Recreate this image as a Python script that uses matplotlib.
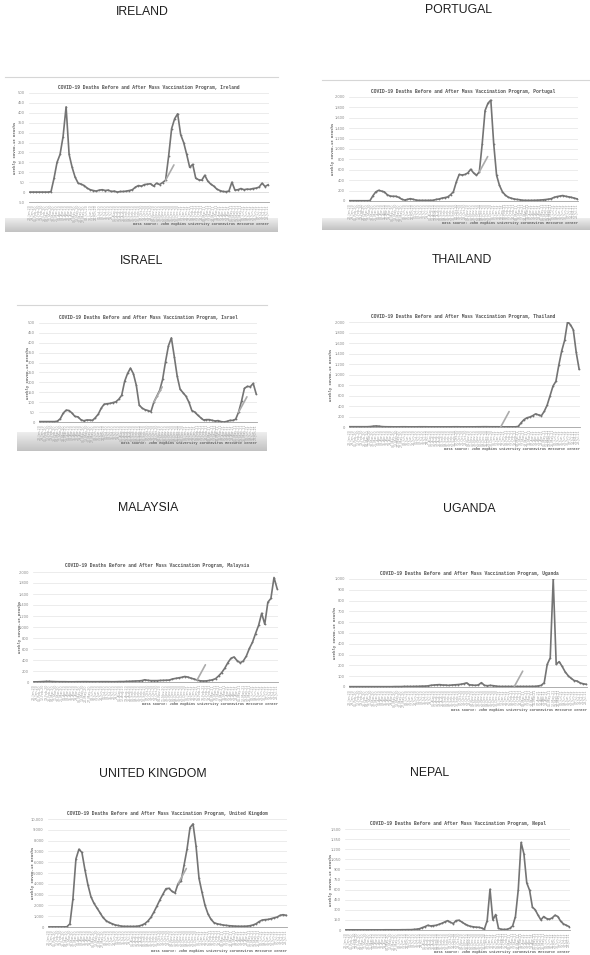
"""Eight small JHU weekly-death screenshots (before/after mass vaccination) laid out in a 2x4 collage."""
import numpy as np
import pandas as pd
import matplotlib
matplotlib.use("Agg")
import matplotlib.pyplot as plt
from matplotlib.colors import LinearSegmentedColormap
from matplotlib.ticker import FuncFormatter
from matplotlib.lines import Line2D

W, H = 590, 955

headings = ["IRELAND", "PORTUGAL", "ISRAEL", "THAILAND",
            "MALAYSIA", "UGANDA", "UNITED KINGDOM", "NEPAL"]
names = ["Ireland", "Portugal", "Israel", "Thailand",
         "Malaysia", "Uganda", "United Kingdom", "Nepal"]

ireland = [0, 0, 0, 0, 0, 0, 0, 2,
           70, 150, 190, 280, 430, 190, 125, 75, 45, 40, 33, 20,
           12, 8, 5, 10, 12, 8, 10, 3, 5, 0,
           3, 3, 5, 8, 12, 25, 33, 30, 38, 40,
           42, 30, 45, 38, 48, 60, 180, 320, 370, 395,
           290, 250, 190, 125, 140, 70, 62, 60, 85, 55,
           40, 30, 15, 8, 3, 2, 5, 50, 10, 12,
           18, 12, 15, 14, 18, 20, 25, 45, 28, 37]
portugal = [5, 5, 5, 5, 5, 5, 5, 8,
            100, 175, 205, 190, 175, 120, 95, 90, 90, 70, 35, 18,
            30, 45, 32, 18, 12, 12, 12, 12, 12, 15,
            30, 38, 55, 65, 78, 120, 180, 365, 510, 500,
            510, 540, 610, 540, 495, 560, 1100, 1740, 1880, 1940,
            1100, 494, 300, 180, 115, 75, 55, 40, 30, 25,
            15, 13, 12, 12, 13, 15, 18, 22, 28, 35,
            45, 70, 85, 95, 105, 90, 80, 70, 55, 40]
israel = [2, 2, 2, 2, 2, 2, 4,
          17, 45, 60, 58, 45, 28, 26, 12, 6, 10,
          10, 8, 22, 40, 70, 90, 92, 94, 98, 102,
          115, 135, 205, 245, 272, 244, 185, 85, 70, 62,
          58, 52, 100, 130, 160, 215, 305, 385, 425, 330,
          230, 165, 148, 130, 100, 58, 50, 35, 22, 10,
          12, 12, 8, 5, 7, 2, 0, 3, 8, 8,
          14, 50, 105, 170, 180, 178, 195, 143]
thailand = [5, 5, 5, 5, 5, 5, 5, 8,
            15, 20, 15, 8,
            5, 4, 4, 3, 3, 3, 4, 4, 3, 3,
            3, 3, 4, 4, 4, 3, 3, 3, 3, 3,
            3, 3, 3, 3, 4, 4, 3, 3, 3, 3,
            3, 3, 4, 4, 5, 5, 4, 4, 4, 4,
            3, 3, 3, 3, 3, 3,
            10, 80, 140, 175, 190, 215, 250, 230, 215, 300,
            420, 600, 780, 870, 1180, 1450, 1650, 2000, 1950, 1850,
            1420, 1100]
malaysia = [3, 3, 5, 8, 10, 10, 8, 6, 5, 5,
            5, 4, 4, 4, 5, 5, 6, 6, 5, 5,
            5, 5, 6, 6, 6, 5, 5, 6, 8, 8,
            10, 12, 15, 18, 20,
            25, 40, 30, 25, 25, 25, 28, 30, 32, 35,
            55, 65, 75, 85, 100, 90, 70, 55, 35, 22,
            18, 20, 28, 40, 60, 110, 170, 250, 350, 430,
            455, 390, 350, 380, 470, 610, 720, 880, 1030, 1250,
            1050, 1450, 1520, 1900, 1700]
uganda = [3, 3, 3, 3, 3, 3, 3, 3, 3, 3,
          3, 3, 3, 3, 3, 4, 4, 4, 5, 5,
          5, 5, 6, 6, 8, 8,
          10, 15, 18, 20, 22, 18, 18, 15, 18, 20,
          22, 25, 30, 38, 20, 18, 15, 20, 40, 15,
          12, 15, 12, 8,
          5, 5, 5, 5, 5, 5, 5, 5, 5, 5,
          5, 6, 6, 10, 15, 40, 210, 270, 1000, 210,
          235, 190, 140, 105, 80, 60, 55, 38, 30, 25]
united_kingdom = [10, 10, 10, 10, 10, 10, 20,
                  300, 2600, 6300, 7200, 6900, 5300, 3900, 2800, 2200, 1760,
                  1330, 880, 600, 420, 310, 200, 140, 90, 60, 60,
                  55, 55, 60, 100, 180, 320, 560, 900, 1400, 1950,
                  2530, 3050, 3550, 3580, 3300, 3150, 4000, 4230, 5700, 7200,
                  9200, 9550, 7500, 4500, 3200, 2000, 1200, 700, 400, 300,
                  240, 185, 150, 120, 100, 80, 70, 65, 70, 80,
                  120, 190, 300, 500, 640, 680, 700, 770, 850, 920,
                  1080, 1140, 1080]
nepal = [2, 2, 2, 2, 2, 2, 2, 2, 2, 2,
         2, 2, 2, 2, 3, 3, 3, 3, 3, 3,
         4, 4, 5, 5,
         8, 12, 18, 35, 50, 70, 60, 65, 70, 85,
         100, 120, 139, 115, 95, 140, 145, 120, 92, 70,
         55, 48, 42, 40, 30, 12, 140, 606, 150, 230,
         25, 10, 8, 10, 25, 60, 200, 600, 1300, 1130,
         700, 590, 340, 300, 220, 150, 200, 170, 160, 180,
         220, 200, 130, 90, 70, 50]

series = [ireland, portugal, israel, thailand, malaysia, uganda, united_kingdom, nepal]
y_min = [-50, 0, 0, 0, 0, 0, 0, 0]
y_max = [500, 2000, 500, 2000, 2000, 1000, 10000, 1500]
y_step = [50, 200, 50, 200, 200, 100, 1000, 150]
vax_weeks = [[45], [45], [39, 68], [52], [53], [55], [43], []]
first_week = "2020-01-22"
week_labels = [pd.date_range(first_week, periods=len(s), freq="7D").strftime("%d-%b-%y")
               for s in series]

# pixel layout: heading centre, plot box (x0, x1, top, bottom), chart title, source y,
# grey footer (x0, x1, top, bottom) or None, y-label x
layout = [
    dict(head=(142, 12), plot=(29, 269, 93, 202), ttl=(149, 87), src=224,
         foot=(5, 278, 218, 232), box=77, ylab=15),
    dict(head=(459, 10), plot=(349, 578, 97, 201), ttl=(463, 92), src=223,
         foot=(322, 590, 218, 230), box=80, ylab=333),
    dict(head=(142, 261), plot=(39, 257, 323, 422), ttl=(148, 317), src=443,
         foot=(17, 267, 432, 451), box=305, ylab=28),
    dict(head=(462, 260), plot=(349, 580, 322, 427), ttl=(463, 316), src=449,
         foot=None, box=None, ylab=331),
    dict(head=(148, 508), plot=(33, 278, 572, 682), ttl=(157, 566), src=704,
         foot=None, box=None, ylab=20),
    dict(head=(469, 509), plot=(349, 587, 579, 687), ttl=(469, 573), src=710,
         foot=None, box=None, ylab=335),
    dict(head=(153, 774), plot=(48, 287, 819, 927), ttl=(167, 813), src=951,
         foot=None, box=None, ylab=33),
    dict(head=(430, 773), plot=(345, 570, 829, 930), ttl=(458, 823), src=952,
         foot=None, box=None, ylab=331),
]

LINE = "#747474"
footer_cmap = LinearSegmentedColormap.from_list("foot", ["#eeeeee", "#c2c2c2"])


def fx(x):
    return x / W


def fy(y):
    return 1 - y / H


def rect(x0, x1, y0, y1):
    return [fx(x0), fy(y1), (x1 - x0) / W, (y1 - y0) / H]


fig = plt.figure(figsize=(W / 100, H / 100), dpi=100)
fig.patch.set_facecolor("white")

for k, lay in enumerate(layout):
    vals = series[k]
    n = len(vals)

    if lay["foot"] is not None:
        fx0, fx1, fy0, fy1 = lay["foot"]
        fa = fig.add_axes(rect(fx0, fx1, fy0, fy1), zorder=0)
        fa.imshow(np.linspace(0, 1, 60).reshape(-1, 1), cmap=footer_cmap,
                  aspect="auto", extent=(0, 1, 0, 1))
        fa.set_axis_off()
        fig.add_artist(Line2D([fx(fx0), fx(fx1)], [fy(lay["box"])] * 2,
                              color="#d6d6d6", lw=0.8))

    x0, x1, top, bot = lay["plot"]
    ax = fig.add_axes(rect(x0, x1, top, bot), zorder=1)
    ax.set_facecolor("none")
    ax.plot(range(n), vals, color=LINE, lw=1.2, marker="o", ms=1.3,
            mec="none", mfc=LINE, solid_joinstyle="round")
    for w in vax_weeks[k]:
        ax.annotate("", xy=(w, vals[w]), xytext=(6, 11), textcoords="offset points",
                    arrowprops=dict(arrowstyle="-", color="#ababab", lw=1.2,
                                    shrinkA=0, shrinkB=0))
    ax.set_xlim(-0.3, n - 0.7)
    ax.set_ylim(y_min[k], y_max[k])
    ax.set_yticks(np.arange(y_min[k], y_max[k] + 1, y_step[k]))
    ax.yaxis.set_major_formatter(FuncFormatter(lambda v, p: f"{v:,.0f}"))
    ax.set_xticks(range(n))
    ax.set_xticklabels(week_labels[k], rotation=90, fontsize=2.3, color="#a0a0a0")
    ax.tick_params(axis="y", labelsize=2.6, labelcolor="#8a8a8a", length=0, pad=3)
    ax.tick_params(axis="x", length=0, pad=1.5)
    ax.grid(axis="y", color="#e4e4e4", lw=0.5)
    ax.set_axisbelow(True)
    for side in ("top", "right", "left"):
        ax.spines[side].set_visible(False)
    ax.spines["bottom"].set_color("#a0a0a0")
    ax.spines["bottom"].set_linewidth(0.6)
    if y_min[k] < 0:
        ax.axhline(0, color="#c8c8c8", lw=0.5, zorder=0)

    cx, cy = lay["head"]
    fig.text(fx(cx), fy(cy), headings[k], ha="center", va="center",
             fontsize=8.8, color="#1e1e1e", family="Liberation Sans")
    tx, ty = lay["ttl"]
    fig.text(fx(tx), fy(ty),
             f"COVID-19 Deaths Before and After Mass Vaccination Program, {names[k]}",
             ha="center", va="center", fontsize=3.3, color="#505050",
             family="Liberation Mono", weight="bold")
    fig.text(fx(lay["ylab"]), fy((top + bot) / 2), "Weekly COVID-19 Deaths",
             rotation=90, ha="center", va="center", fontsize=2.8, color="#606060",
             family="Liberation Mono", weight="bold")
    fig.text(fx(x1), fy(lay["src"]),
             "Data source: John Hopkins University Coronavirus Resource Center",
             ha="right", va="center", fontsize=2.6, color="#606060",
             family="Liberation Mono", weight="bold")

fig.savefig("out.png", dpi=100)
